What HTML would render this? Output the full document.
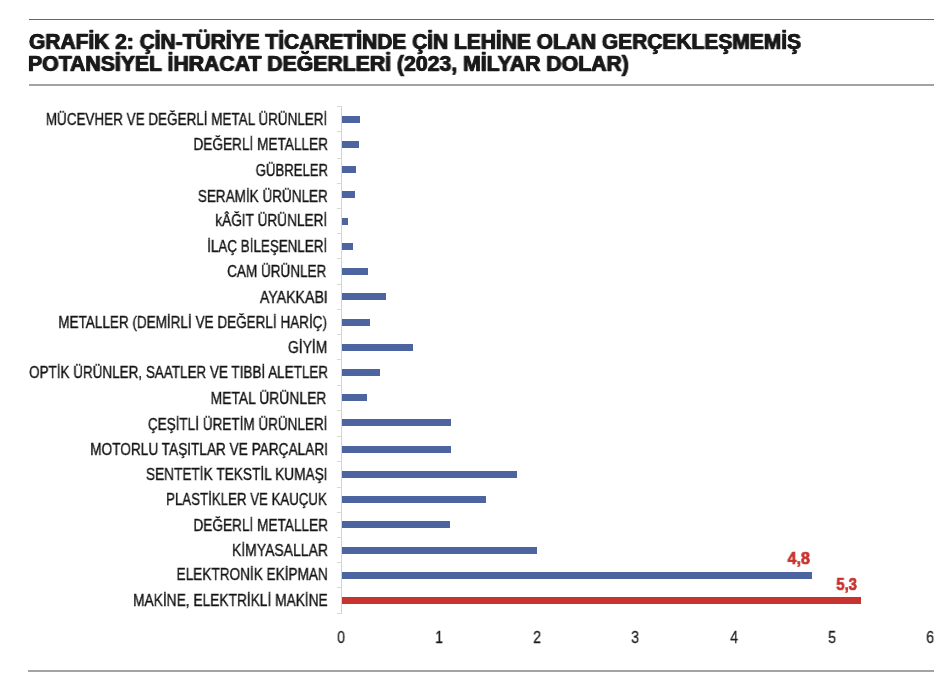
<!DOCTYPE html>
<html lang="tr"><head><meta charset="utf-8"><title>Grafik 2</title>
<style>
html,body{margin:0;padding:0;background:#fff;}
.t,.l,.ax,.v{will-change:transform;}
body{width:946px;height:686px;position:relative;overflow:hidden;font-family:"Liberation Sans",sans-serif;color:#1a1a1a;}
.abs{position:absolute;}
.rule{position:absolute;left:28.5px;width:905.5px;}
.t{position:absolute;left:0;white-space:nowrap;font-weight:bold;transform-origin:0 0;line-height:1;letter-spacing:0;-webkit-text-stroke:0.5px #1a1a1a;text-shadow:0.55px 0 0 #1a1a1a,-0.55px 0 0 #1a1a1a;}
.l{color:#141414;-webkit-text-stroke:0.35px #141414;position:absolute;right:0;white-space:nowrap;transform-origin:100% 0;line-height:1;text-align:right;}
.bar{position:absolute;left:342px;height:7px;background:#4c64a0;}
.tick{position:absolute;left:337px;width:5px;height:1px;background:#d9d9d2;}
.ax{-webkit-text-stroke:0.3px #1a1a1a;position:absolute;white-space:nowrap;line-height:1;text-align:center;width:40px;}
.v{position:absolute;white-space:nowrap;line-height:1;font-weight:bold;color:#c8322f;transform-origin:100% 0;-webkit-text-stroke:0.7px #c8322f;}
</style></head><body>

<div class="rule" style="top:18.6px;height:1.4px;background:#666"></div>
<div class="rule" style="top:84px;height:2px;background:#a3a3a3"></div>
<div class="rule" style="left:28px;width:906px;top:670px;height:2px;background:#a3a3a3"></div>
<div class="t" style="left:29.10px;top:31.12px;font-size:21.60px;transform:scaleX(0.9706)">GRAFİK 2: ÇİN-TÜRİYE TİCARETİNDE ÇİN LEHİNE OLAN GERÇEKLEŞMEMİŞ</div>
<div class="t" style="left:28.10px;top:53.32px;font-size:21.60px;transform:scaleX(0.9825)">POTANSİYEL İHRACAT DEĞERLERİ (2023, MİLYAR DOLAR)</div>
<div class="abs" style="left:341px;top:106px;width:1px;height:508px;background:#d4d4cc"></div>
<div class="tick" style="top:106px"></div>
<div class="tick" style="top:131px"></div>
<div class="tick" style="top:158px"></div>
<div class="tick" style="top:183px"></div>
<div class="tick" style="top:208px"></div>
<div class="tick" style="top:233px"></div>
<div class="tick" style="top:258px"></div>
<div class="tick" style="top:284px"></div>
<div class="tick" style="top:309px"></div>
<div class="tick" style="top:334px"></div>
<div class="tick" style="top:359px"></div>
<div class="tick" style="top:385px"></div>
<div class="tick" style="top:410px"></div>
<div class="tick" style="top:436px"></div>
<div class="tick" style="top:461px"></div>
<div class="tick" style="top:487px"></div>
<div class="tick" style="top:512px"></div>
<div class="tick" style="top:537px"></div>
<div class="tick" style="top:562px"></div>
<div class="tick" style="top:587px"></div>
<div class="tick" style="top:613px"></div>
<div class="bar" style="top:116px;width:17.9px;"></div>
<div class="bar" style="top:141px;width:16.6px;"></div>
<div class="bar" style="top:166px;width:13.8px;"></div>
<div class="bar" style="top:191px;width:12.6px;"></div>
<div class="bar" style="top:218px;width:6.3px;"></div>
<div class="bar" style="top:243px;width:11.3px;"></div>
<div class="bar" style="top:268px;width:26.3px;"></div>
<div class="bar" style="top:293px;width:43.9px;"></div>
<div class="bar" style="top:319px;width:27.6px;"></div>
<div class="bar" style="top:344px;width:71.4px;"></div>
<div class="bar" style="top:369px;width:37.8px;"></div>
<div class="bar" style="top:394px;width:25.2px;"></div>
<div class="bar" style="top:419px;width:109.1px;"></div>
<div class="bar" style="top:446px;width:109.1px;"></div>
<div class="bar" style="top:471px;width:175.1px;"></div>
<div class="bar" style="top:496px;width:143.9px;"></div>
<div class="bar" style="top:521px;width:107.8px;"></div>
<div class="bar" style="top:547px;width:195.0px;"></div>
<div class="bar" style="top:572px;width:470.2px;"></div>
<div class="bar" style="top:597px;width:519.0px; background:#c8322f;"></div>
<div class="l" style="right:618.60px;top:112.00px;font-size:16.00px;transform:scaleX(0.8420)">MÜCEVHER VE DEĞERLİ METAL ÜRÜNLERİ</div>
<div class="l" style="right:618.20px;top:137.00px;font-size:16.00px;transform:scaleX(0.8515)">DEĞERLİ METALLER</div>
<div class="l" style="right:618.20px;top:163.00px;font-size:16.00px;transform:scaleX(0.8218)">GÜBRELER</div>
<div class="l" style="right:618.20px;top:189.00px;font-size:16.00px;transform:scaleX(0.8451)">SERAMİK ÜRÜNLER</div>
<div class="l" style="right:618.60px;top:213.00px;font-size:16.00px;transform:scaleX(0.8529)">kÂĞIT ÜRÜNLERİ</div>
<div class="l" style="right:618.60px;top:239.00px;font-size:16.00px;transform:scaleX(0.8380)">İLAÇ BİLEŞENLERİ</div>
<div class="l" style="right:619.20px;top:264.00px;font-size:16.00px;transform:scaleX(0.8451)">CAM ÜRÜNLER</div>
<div class="l" style="right:618.60px;top:290.00px;font-size:16.00px;transform:scaleX(0.8848)">AYAKKABI</div>
<div class="l" style="right:619.20px;top:315.00px;font-size:16.00px;transform:scaleX(0.8450)">METALLER (DEMİRLİ VE DEĞERLİ HARİÇ)</div>
<div class="l" style="right:618.20px;top:340.00px;font-size:16.00px;transform:scaleX(0.8694)">GİYİM</div>
<div class="l" style="right:618.20px;top:365.00px;font-size:16.00px;transform:scaleX(0.8422)">OPTİK ÜRÜNLER, SAATLER VE TIBBİ ALETLER</div>
<div class="l" style="right:619.20px;top:391.00px;font-size:16.00px;transform:scaleX(0.8680)">METAL ÜRÜNLER</div>
<div class="l" style="right:618.60px;top:417.00px;font-size:16.00px;transform:scaleX(0.8451)">ÇEŞİTLİ ÜRETİM ÜRÜNLERİ</div>
<div class="l" style="right:618.60px;top:442.00px;font-size:16.00px;transform:scaleX(0.8522)">MOTORLU TAŞITLAR VE PARÇALARI</div>
<div class="l" style="right:618.60px;top:467.00px;font-size:16.00px;transform:scaleX(0.8546)">SENTETİK TEKSTİL KUMAŞI</div>
<div class="l" style="right:619.20px;top:492.00px;font-size:16.00px;transform:scaleX(0.8294)">PLASTİKLER VE KAUÇUK</div>
<div class="l" style="right:618.20px;top:518.00px;font-size:16.00px;transform:scaleX(0.8515)">DEĞERLİ METALLER</div>
<div class="l" style="right:618.20px;top:543.00px;font-size:16.00px;transform:scaleX(0.8731)">KİMYASALLAR</div>
<div class="l" style="right:618.40px;top:567.00px;font-size:16.00px;transform:scaleX(0.8507)">ELEKTRONİK EKİPMAN</div>
<div class="l" style="right:618.20px;top:593.00px;font-size:16.00px;transform:scaleX(0.8584)">MAKİNE, ELEKTRİKLİ MAKİNE</div>
<div class="ax" style="left:321.40px;top:629.00px;font-size:16.50px;transform:scaleX(0.8500)">0</div>
<div class="ax" style="left:419.43px;top:629.00px;font-size:16.50px;transform:scaleX(0.8500)">1</div>
<div class="ax" style="left:517.46px;top:629.00px;font-size:16.50px;transform:scaleX(0.8500)">2</div>
<div class="ax" style="left:615.49px;top:629.00px;font-size:16.50px;transform:scaleX(0.8500)">3</div>
<div class="ax" style="left:713.52px;top:629.00px;font-size:16.50px;transform:scaleX(0.8500)">4</div>
<div class="ax" style="left:811.55px;top:629.00px;font-size:16.50px;transform:scaleX(0.8500)">5</div>
<div class="ax" style="left:909.58px;top:629.00px;font-size:16.50px;transform:scaleX(0.8500)">6</div>
<div class="v" style="right:136.30px;top:550.00px;font-size:16.50px;transform:scaleX(0.9800)">4,8</div>
<div class="v" style="right:89.20px;top:576.00px;font-size:16.50px;transform:scaleX(0.9000)">5,3</div>
</body></html>
